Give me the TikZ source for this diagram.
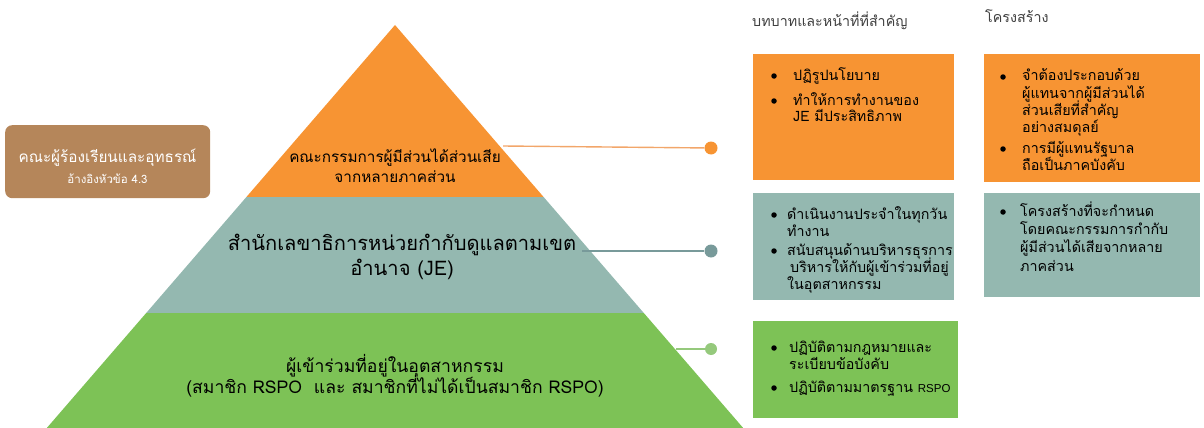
\documentclass[tikz,border=0pt]{standalone}
\usepackage{fontspec}
\newfontfamily\thai[Script=Thai]{Loma}
\newfontfamily\lat{Liberation Sans}
\definecolor{cOr}{HTML}{F79433}
\definecolor{cTe}{HTML}{94B8B0}
\definecolor{cGr}{HTML}{7DC256}
\definecolor{cBr}{HTML}{B5865A}
\definecolor{cOrL}{HTML}{F2A66A}
\definecolor{cTeD}{HTML}{789A9A}
\definecolor{cGrL}{HTML}{95C97C}
\definecolor{cHead}{HTML}{404040}
\begin{document}
\begin{tikzpicture}[x=1pt,y=-1pt,
  ptxt/.style={anchor=base,inner sep=0,text=black},
  btxt/.style={anchor=base west,inner sep=0,text=black,font=\thai\fontsize{14.3}{17}\selectfont},
  htxt/.style={anchor=base west,inner sep=0,text=cHead,font=\thai\fontsize{14.3}{17}\selectfont},
  dot/.style={circle,inner sep=0,minimum size=13pt},
  conn/.style={line width=1.4pt},
  infobox/.style={anchor=north west,inner sep=0,draw=none},
  bul/.style={circle,fill=black,inner sep=0,minimum size=5.5pt}]
\useasboundingbox (0,0) rectangle (1204,428);
% pyramid
\fill[cOr] (395,25) -- (543.6,197) -- (246.4,197) -- cycle;
\fill[cTe] (246.4,197) -- (543.6,197) -- (643.8,313) -- (146.2,313) -- cycle;
\fill[cGr] (146.2,313) -- (643.8,313) -- (743.2,428) -- (46.8,428) -- cycle;
% pyramid labels
\node[ptxt,font=\thai\fontsize{15.3}{20}\selectfont] (t1a) at (395,162) {คณะกรรมการผู้มีส่วนได้ส่วนเสีย};
\node[ptxt,font=\thai\fontsize{15.3}{20}\selectfont] (t1b) at (395,182) {จากหลายภาคส่วน};
\node[ptxt,font=\thai\fontsize{20.1}{24}\selectfont] (t2a) at (402,250) {สำนักเลขาธิการหน่วยกำกับดูแลตามเขต};
\node[ptxt,font=\thai\fontsize{20.1}{24}\selectfont] (t2b) at (402,275) {อำนาจ (JE)};
\node[ptxt,font=\thai\fontsize{17.6}{22}\selectfont] (t3a) at (395,372) {ผู้เข้าร่วมที่อยู่ในอุตสาหกรรม};
\node[ptxt,font=\thai\fontsize{17.6}{22}\selectfont] (t3b) at (395,393) {(สมาชิก RSPO\ \ และ สมาชิกที่ไม่ได้เป็นสมาชิก RSPO)};
% connectors
\node[dot,fill=cOr] (d1) at (711,148) {};
\node[dot,fill=cTeD] (d2) at (711,251) {};
\node[dot,fill=cGrL,minimum size=12pt] (d3) at (711,349) {};
\coordinate (c1) at (503,146);
\coordinate (c2) at (582,251);
\coordinate (c3) at (676,349);
\draw[conn,cOrL] (c1) -- (d1);
\draw[conn,cTeD] (c2) -- (d2);
\draw[conn,cGrL] (c3) -- (d3);
% left box
\node[anchor=north west,fill=cBr,rounded corners=7pt,minimum width=205pt,minimum height=73pt,inner sep=0] (lb) at (5,125) {};
\node[ptxt,text=white,font=\thai\fontsize{15.3}{20}\selectfont] (lba) at (107.5,162) {คณะผู้ร้องเรียนและอุทธรณ์};
\node[ptxt,text=white,font=\thai\fontsize{11.5}{14}\selectfont] (lbb) at (107.5,183) {อ้างอิงหัวข้อ 4.3};
% headers
\node[htxt] (h1) at (752,27) {บทบาทและหน้าที่ที่สำคัญ};
\node[htxt] (h2) at (985,23) {โครงสร้าง};
% boxes
\node[infobox,fill=cOr,minimum width=201pt,minimum height=126pt] (b1) at (753,54) {};
\node[infobox,fill=cOr,minimum width=216pt,minimum height=128pt] (b2) at (984,54) {};
\node[infobox,fill=cTe,minimum width=201pt,minimum height=107pt] (b3) at (753,193) {};
\node[infobox,fill=cTe,minimum width=216pt,minimum height=104pt] (b4) at (984,193) {};
\node[infobox,fill=cGr,minimum width=205pt,minimum height=97pt] (b5) at (753,321) {};
% box 1
\node[bul] (u1a) at (774,76) {};
\node[btxt] (x1a) at (793,80) {ปฏิรูปนโยบาย};
\node[bul] (u1b) at (774,101) {};
\node[btxt] (x1b) at (793,105) {ทำให้การทำงานของ};
\node[btxt] (x1c) at (793,121) {JE มีประสิทธิภาพ};
% box 2
\node[bul] (u2a) at (1003,77) {};
\node[btxt] (x2a) at (1022,81) {จำต้องประกอบด้วย};
\node[btxt] (x2b) at (1022,98) {ผู้แทนจากผู้มีส่วนได้};
\node[btxt] (x2c) at (1022,115) {ส่วนเสียที่สำคัญ};
\node[btxt] (x2d) at (1022,132) {อย่างสมดุลย์};
\node[bul] (u2b) at (1003,149) {};
\node[btxt] (x2e) at (1022,153) {การมีผู้แทนรัฐบาล};
\node[btxt] (x2f) at (1022,170) {ถือเป็นภาคบังคับ};
% box 3
\node[bul] (u3a) at (774,215) {};
\node[btxt] (x3a) at (787,219) {ดำเนินงานประจำในทุกวัน};
\node[btxt] (x3b) at (787,236) {ทำงาน};
\node[bul] (u3b) at (774,251) {};
\node[btxt] (x3c) at (787,255) {สนับสนุนด้านบริหารธุรการ};
\node[btxt] (x3d) at (790,272) {บริหารให้กับผู้เข้าร่วมที่อยู่};
\node[btxt] (x3e) at (787,289) {ในอุตสาหกรรม};
% box 4
\node[bul] (u4a) at (1003,212) {};
\node[btxt] (x4a) at (1020,216) {โครงสร้างที่จะกำหนด};
\node[btxt] (x4b) at (1020,234) {โดยคณะกรรมการกำกับ};
\node[btxt] (x4c) at (1020,252) {ผู้มีส่วนได้เสียจากหลาย};
\node[btxt] (x4d) at (1020,271) {ภาคส่วน};
% box 5
\node[bul] (u5a) at (774,348) {};
\node[btxt] (x5a) at (789,352) {ปฏิบัติตามกฎหมายและ};
\node[btxt] (x5b) at (789,369) {ระเบียบข้อบังคับ};
\node[bul] (u5b) at (774,388) {};
\node[btxt] (x5c) at (789,392) {ปฏิบัติตามมาตรฐาน {\lat\fontsize{11.5}{14}\selectfont RSPO}};
\end{tikzpicture}
\end{document}
